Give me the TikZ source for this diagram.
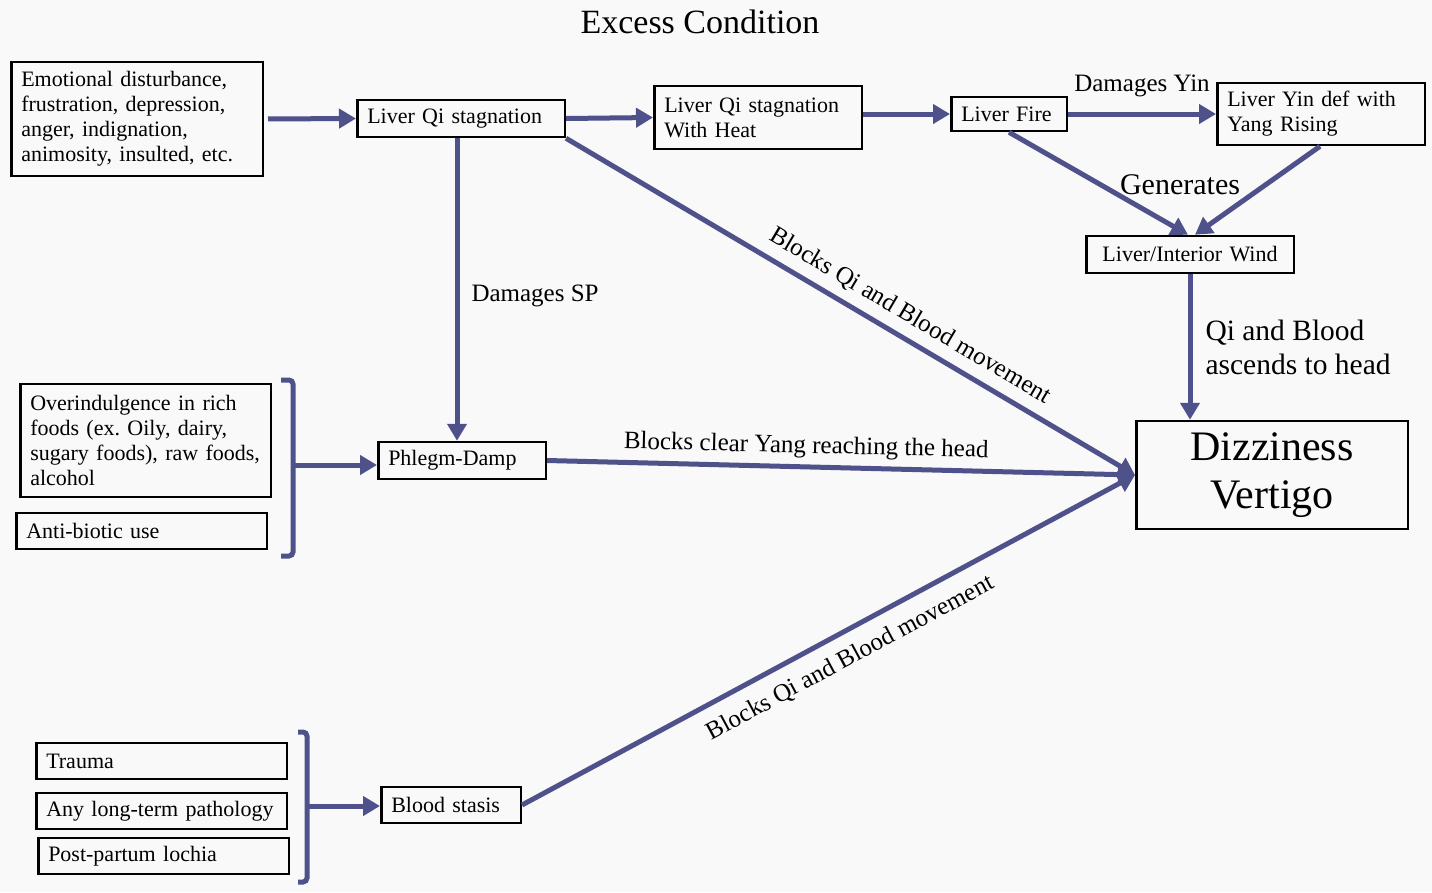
\documentclass[tikz,border=0pt]{standalone}
\usepackage{fontspec}
\setmainfont{Liberation Serif}
\usepackage{xcolor}
\usetikzlibrary{arrows.meta,positioning}
\definecolor{ink}{HTML}{4F518B}
\definecolor{paper}{HTML}{F9F9F9}
\frenchspacing
\tikzset{
  block/.style={draw,line width=2.5pt,fill=paper,align=left,inner xsep=10pt,inner ysep=4pt,
    font=\fontsize{22}{25}\selectfont},
  arr/.style={-{Triangle[length=17pt,width=19pt]},line width=5pt,draw=ink},
  brace/.style={line width=5pt,draw=ink,rounded corners=4pt},
  lbl/.style={font=\fontsize{25}{29}\selectfont,inner sep=2pt},
  biglbl/.style={font=\fontsize{29.5}{34}\selectfont,inner sep=2pt,align=left}
}

\begin{document}
\begin{tikzpicture}[x=1pt,y=-1pt]
\fill[paper] (0,0) rectangle (1432,892);
\useasboundingbox (0,0) rectangle (1432,892);

\node[font=\fontsize{34}{40}\selectfont] (title) at (700,22) {Excess Condition};

% causes
\node[block,text width=231.5pt,minimum height=114pt] (emo) at (137,119)
  {Emotional disturbance,\\frustration, depression,\\anger, indignation,\\animosity, insulted, etc.};
\node[block,text width=230.5pt,minimum height=113pt] (food) at (145.5,440.5)
  {Overindulgence in rich\\foods (ex. Oily, dairy,\\sugary foods), raw foods,\\alcohol};
\node[block,text width=230.5pt,minimum height=36pt] (anti) at (141.5,531) {Anti-biotic use};
\node[block,text width=230.5pt,minimum height=36pt] (trauma) at (161.5,761) {Trauma};
\node[block,text width=230.5pt,minimum height=36pt] (longterm) at (161.5,811) {Any long-term pathology};
\node[block,text width=230.5pt,minimum height=36pt] (lochia) at (163.5,856) {Post-partum lochia};

% patterns
\node[block,text width=187.5pt,minimum height=37pt] (lqs) at (461,118.5) {Liver Qi stagnation};
\node[block,text width=187.5pt,minimum height=63pt] (heat) at (758,117.5) {Liver Qi stagnation\\With Heat};
\node[block,text width=95.5pt,minimum height=34pt] (fire) at (1009,114) {Liver Fire};
\node[block,text width=187.5pt,minimum height=62pt] (yin) at (1321,114) {Liver Yin def with\\Yang Rising};
\node[block,text width=187.5pt,minimum height=37pt,align=center] (wind) at (1190,254.5) {Liver/Interior Wind};
\node[block,text width=147.5pt,minimum height=37pt] (phlegm) at (462,460.5) {Phlegm-Damp};
\node[block,text width=119.5pt,minimum height=36pt] (blood) at (451,805) {Blood stasis};
\node[block,text width=251.5pt,minimum height=108pt,align=center,
  font=\fontsize{42}{48}\selectfont] (dizz) at (1272,475) {Dizziness\\Vertigo};

% brackets
\draw[brace] (281,380) -- (293,380) -- (293,556) -- (281,556);
\coordinate (br1) at (293,465);
\draw[brace] (298,732) -- (307,732) -- (307,882) -- (298,882);
\coordinate (br2) at (307,806);

% arrows
\draw[arr,shorten <=4pt] (emo.east) -- (lqs.west);
\draw[arr] (lqs.east) -- (heat.west);
\draw[arr] (fire.west -| heat.east) -- (fire.west);
\draw[arr] (fire.east) -- node[lbl,above=13pt] {Damages Yin} (yin.west);
\draw[arr] (fire.south) -- ([xshift=-2pt]wind.north);
\draw[arr] ([xshift=-1pt]yin.south) -- ([xshift=5pt]wind.north);
\node[font=\fontsize{30}{34}\selectfont] (gen) at (1180,185) {Generates};
\draw[arr] (wind.south) -- node[biglbl,pos=0.5,right=11pt] {Qi and Blood\\ascends to head} (wind.south |- dizz.north);
\draw[arr] ([xshift=-4pt]lqs.south) -- node[lbl,pos=0.52,right=10pt] {Damages SP} ([xshift=-4pt]lqs.south |- phlegm.north);
\draw[arr] (lqs.south east) -- node[lbl,pos=0.585,sloped,above=7pt] {Blocks Qi and Blood movement} (dizz.west);
\draw[arr] (br1) -- (phlegm.west |- br1);
\draw[arr] (phlegm.east) -- node[lbl,pos=0.44,sloped,above=4pt] {Blocks clear Yang reaching the head} (dizz.west);
\draw[arr] (br2) -- (blood.west |- br2);
\draw[arr] (blood.east) -- node[lbl,pos=0.515,sloped,below=11pt] {Blocks Qi and Blood movement} (dizz.west);
\end{tikzpicture}
\end{document}
